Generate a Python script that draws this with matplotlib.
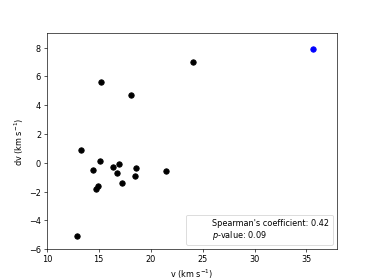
import matplotlib
matplotlib.use("Agg")
import matplotlib.pyplot as plt

v = [24.07, 15.22, 18.11, 13.33, 15.13, 14.42, 16.35, 16.92, 16.73, 18.62, 18.49, 21.5, 17.21, 14.94, 14.71, 12.95]
dv = [7.0, 5.59, 4.69, 0.88, 0.10, -0.51, -0.30, -0.09, -0.69, -0.39, -0.90, -0.60, -1.39, -1.60, -1.80, -5.10]
v_hi = [35.64]
dv_hi = [7.88]
label = "Spearman's coefficient: 0.42\n$p$-value: 0.09"

fig, ax = plt.subplots(figsize=(6.4, 4.8), dpi=58.44)
ax.scatter(v, dv, color='black', s=45)
ax.scatter(v_hi, dv_hi, color='blue', s=45)
ax.plot([], [], ' ', label=label)
ax.set_xlim(10, 37.9)
ax.set_ylim(-6, 9)
ax.set_xlabel(r'v (km s$^{-1}$)')
ax.set_ylabel(r'dv (km s$^{-1}$)')
ax.legend(loc='lower right')
fig.savefig('out.png', dpi=58.44)
